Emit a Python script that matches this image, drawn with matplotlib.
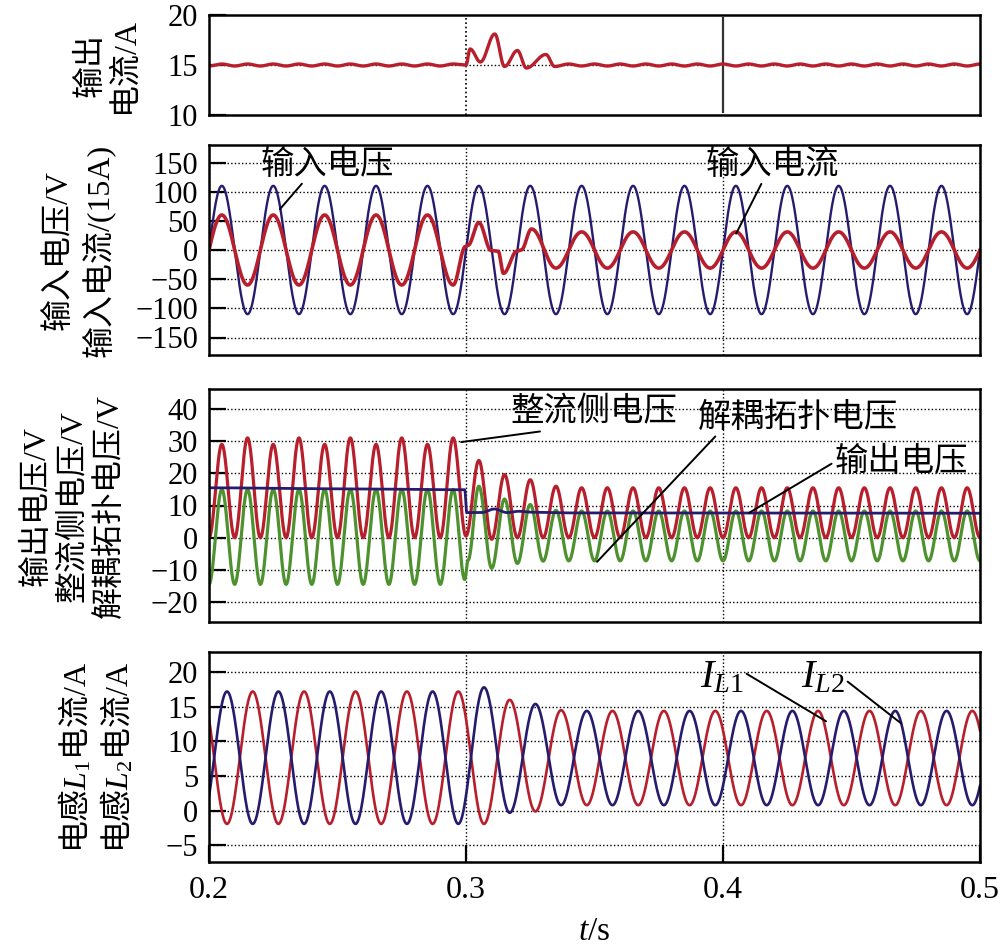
import numpy as np
import matplotlib
matplotlib.use('Agg')
import matplotlib.pyplot as plt

plt.rcParams['font.family'] = ['Liberation Serif', 'Noto Sans CJK SC']
plt.rcParams['mathtext.fontset'] = 'custom'
plt.rcParams['mathtext.rm'] = 'Liberation Serif'
plt.rcParams['mathtext.it'] = 'Liberation Serif:italic'

# 颜色
RED = '#b71f2c'
NAVY = '#261c6e'
GREEN = '#4e9230'

# ---- 数据: 波形极值点 (时间 s, 数值), 读自原图 ----
# 输出电流 /A
io_t = list(np.arange(0.200, 0.2999, 0.005)) + \
    [0.3000, 0.3016, 0.3056, 0.3112, 0.3150, 0.3200, 0.3235, 0.3311, 0.3345] + \
    list(np.arange(0.340, 0.5051, 0.005))
io_v = [14.9, 15.1] * 10 + \
    [15.0, 16.6, 15.3, 18.1, 14.85, 16.45, 14.7, 16.05, 14.85] + \
    [15.1, 14.9] * 17

# 输入电压 /V
vin_t = list(np.arange(0.195, 0.5051, 0.01))
vin_v = [-110, 110] * 16

# 输入电流 (15A 标度)
iin_t = list(np.arange(0.195, 0.2951, 0.01)) + \
    [0.2998, 0.3008, 0.3050, 0.3098, 0.3125, 0.3146, 0.3198, 0.3215, 0.3255] + \
    list(np.arange(0.335, 0.5051, 0.01))
iin_v = [-60, 60] * 5 + [-60] + \
    [6, 8, 47, -1, -2, -40, -2, 0, 36] + \
    [-31, 31] * 9

# 输出电压 /V
vout_t = [0.200, 0.250, 0.2995, 0.3003, 0.306, 0.311, 0.316, 0.3205, 0.326, 0.340, 0.500]
vout_v = [15.5, 15.2, 14.9, 7.8, 7.8, 8.9, 7.8, 8.2, 7.9, 7.7, 7.6]

# 解耦拓扑电压 /V
vdec_t = list(np.arange(0.200, 0.2951, 0.005)) + \
    [0.2995, 0.3008, 0.305, 0.310, 0.315, 0.320, 0.325, 0.330, 0.335] + \
    list(np.arange(0.340, 0.5051, 0.005))
vdec_v = [-14.5, 15.0] * 10 + \
    [-13, -7, 16, -9.5, 12, -8, 10.3, -7.3, 8.5] + \
    [-7.2, 8.3] * 17

# 整流侧电压 /V
vrec_t = list(np.arange(0.200, 0.2951, 0.005)) + \
    [0.300, 0.305, 0.310, 0.315, 0.320, 0.325, 0.330, 0.335, 0.340, 0.345] + \
    list(np.arange(0.350, 0.5051, 0.005))
vrec_v = [0, 29, 0, 31] * 5 + \
    [0.5, 24, -0.5, 19.6, 0, 18, 0, 16, 0, 15.5] + \
    [0, 15.5] * 16

# 电感电流 /A
il_t = list(np.arange(0.197, 0.5071, 0.01))
il1_v = [17.2, -1.9] * 5 + [17.2] + [-1.9, 16.0, -0.1, 14.5, 0.8] + [14.4, 0.8] * 8
il2_v = [-1.9, 17.2] * 5 + [-1.9] + [17.8, -0.3, 15.4, 0.8, 14.4] + [0.8, 14.4] * 8


def trace(tk, vk, t):
    # 相邻极值之间按半余弦连接
    tk = np.asarray(tk, float)
    vk = np.asarray(vk, float)
    i = np.clip(np.searchsorted(tk, t, side='right') - 1, 0, len(tk) - 2)
    f = np.clip((t - tk[i]) / (tk[i + 1] - tk[i]), 0, 1)
    w = (1 - np.cos(np.pi * f)) / 2
    return vk[i] + (vk[i + 1] - vk[i]) * w


t = np.linspace(0.2, 0.5, 6001)

fig = plt.figure(figsize=(10.06, 9.5), dpi=100)
L, W = 209 / 1006, 771 / 1006
rects = [(115, 100), (355, 210), (622, 233), (862, 210)]
axes = [fig.add_axes([L, 1 - b / 950, W, h / 950]) for b, h in rects]

yticks = [[10, 15, 20], [-150, -100, -50, 0, 50, 100, 150],
          [-20, -10, 0, 10, 20, 30, 40], [-5, 0, 5, 10, 15, 20]]
ylims = [(10, 20), (-180, 180), (-26.2, 46.2), (-7.4, 22.9)]

for k, ax in enumerate(axes):
    ax.set_xlim(0.2, 0.5)
    ax.set_ylim(*ylims[k])
    ax.set_yticks(yticks[k])
    ax.set_xticks([0.2, 0.3, 0.4, 0.5])
    ax.grid(True, color='k', linestyle=(0, (1, 1.6)), linewidth=1.0)
    ax.tick_params(axis='y', direction='in', length=12, width=1.6,
                   labelsize=22, pad=8)
    ax.tick_params(axis='x', direction='in', length=12, width=1.6,
                   labelsize=23, pad=10)
    for s in ax.spines.values():
        s.set_linewidth(1.8)
    if k < 3:
        ax.tick_params(axis='x', length=0, labelbottom=False)
axes[3].set_xticklabels(['0.2', '0.3', '0.4', '0.5'])

# 面板1: 输出电流
ax = axes[0]
ax.grid(False)
ax.axhline(15, color='k', linestyle=(0, (1, 1.6)), linewidth=1.0)
ax.axvline(0.3, color='k', linestyle=(0, (1, 1.6)), linewidth=1.2)
ax.axvline(0.4, color='#333333', linewidth=1.6, ymin=0.03, ymax=0.97)
ax.plot(t, trace(io_t, io_v, t), color=RED, lw=2.4)

# 面板2: 输入电压/电流
ax = axes[1]
ax.plot(t, trace(vin_t, vin_v, t), color=NAVY, lw=1.7)
ax.plot(t, trace(iin_t, iin_v, t), color=RED, lw=2.6)

# 面板3: 电压
ax = axes[2]
ax.plot(t, trace(vrec_t, vrec_v, t), color=RED, lw=2.3)
ax.plot(t, trace(vdec_t, vdec_v, t), color=GREEN, lw=2.3)
ax.plot(t, trace(vout_t, vout_v, t), color=NAVY, lw=2.0)

# 面板4: 电感电流
ax = axes[3]
ax.plot(t, trace(il_t, il1_v, t), color=RED, lw=1.9)
ax.plot(t, trace(il_t, il2_v, t), color=NAVY, lw=1.9)
ax.set_xlabel('$t$/s', fontsize=24, labelpad=8)

# 纵轴标签
ylabels = ['输出\n电流/A', '输入电压/V\n输入电流/(15A)',
           '输出电压/V\n整流侧电压/V\n解耦拓扑电压/V',
           '电感$L_1$电流$\\mathrm{/A}$\n电感$L_2$电流$\\mathrm{/A}$']
label_x = [-0.132, -0.168, -0.176, -0.146]
spacing = [1.2, 1.25, 1.3, 1.2]
for k, ax in enumerate(axes):
    fam = ['Noto Sans CJK SC'] if k == 3 else ['Liberation Serif', 'Noto Sans CJK SC']
    ax.text(label_x[k], 0.5, ylabels[k], transform=ax.transAxes, rotation=90,
            ha='center', va='center', fontsize=23, linespacing=spacing[k],
            family=fam)


def note(ax, s, xy, xytext, rel, size=24):
    ax.annotate(s, xy=xy, xytext=xytext, ha='center', va='center',
                fontsize=size,
                arrowprops=dict(arrowstyle='-', color='k', lw=1.4,
                                relpos=rel, shrinkA=0, shrinkB=0))


note(axes[1], '输入电压', (0.2276, 70), (0.2459, 145), (0.33, 0.0))
note(axes[1], '输入电流', (0.4051, 28), (0.4191, 145), (0.43, 0.0))
note(axes[2], '整流侧电压', (0.2981, 29.7), (0.3498, 38.7), (0.3, 0.0))
note(axes[2], '解耦拓扑电压', (0.351, -7.5), (0.4292, 37.2), (0.1, 0.0))
note(axes[2], '输出电压', (0.4101, 7.7), (0.4693, 23.5), (0.0, 0.5))
note(axes[3], '$I_{L\\mathrm{1}}$', (0.4401, 12.9), (0.3996, 19.2), (1.0, 0.65), 29)
note(axes[3], '$I_{L\\mathrm{2}}$', (0.4693, 12.6), (0.4389, 19.2), (1.0, 0.45), 29)

fig.savefig('out.png', dpi=100)
